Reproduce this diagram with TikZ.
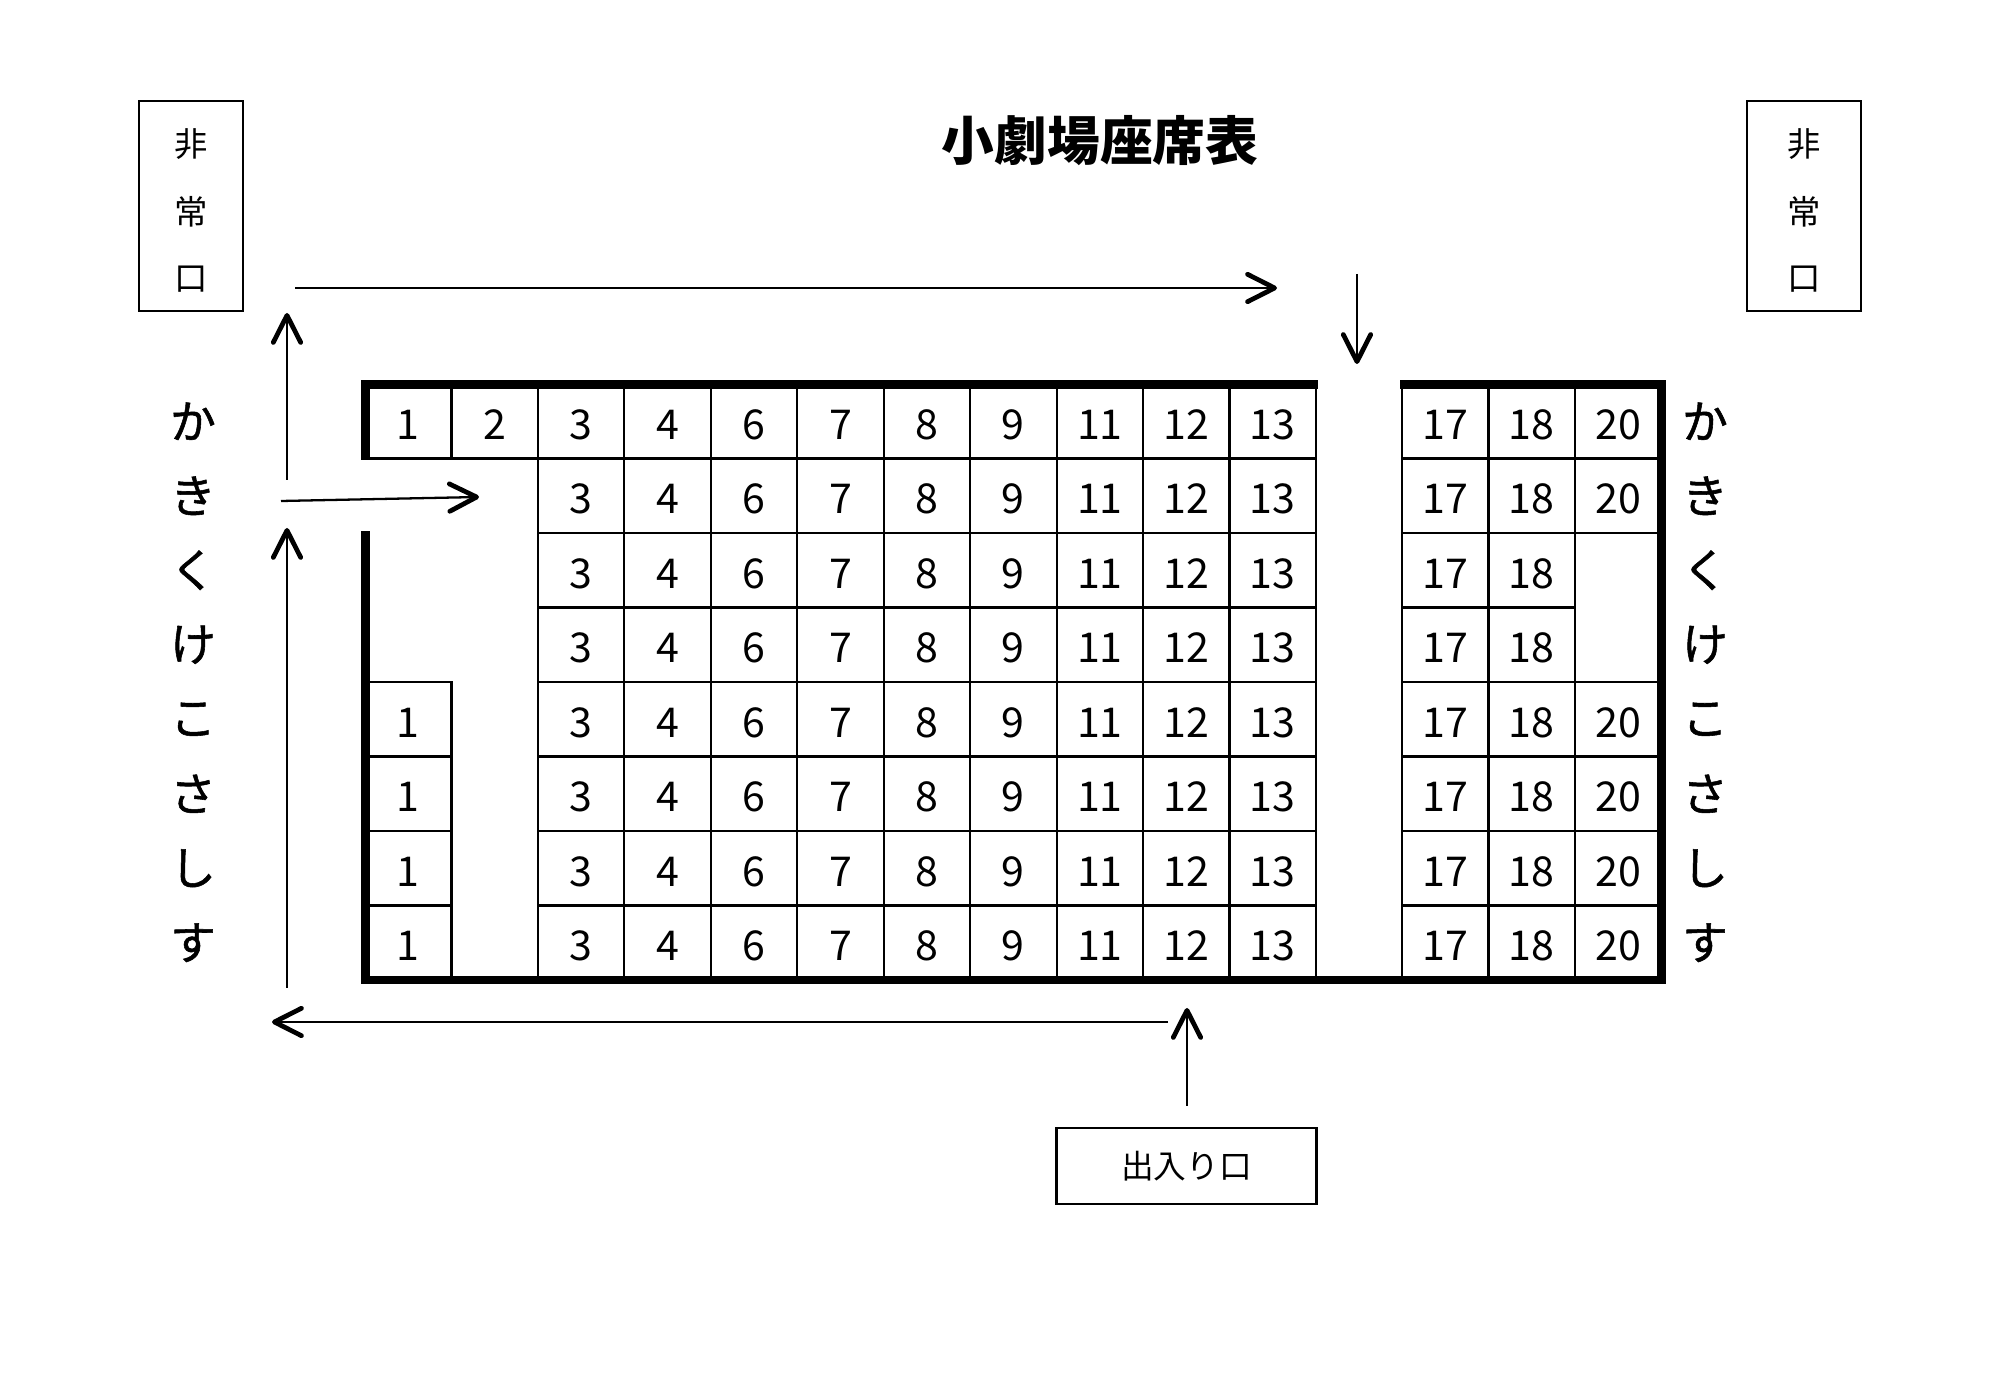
\documentclass[tikz,border=0pt]{standalone}
\usepackage{fontspec}
\setmainfont{Noto Sans CJK JP}
\newfontfamily\kanafont[FakeBold=1.2]{Noto Sans CJK JP}
\usetikzlibrary{arrows.meta}
\begin{document}
\begin{tikzpicture}[x=0.1mm,y=-0.1mm,
  seat/.style={draw, line width=0.6pt, minimum width=8.645mm, minimum height=7.45mm, inner sep=0pt, text height=3.6mm, text depth=0mm, font=\fontsize{11.7}{12}\selectfont},
  rseat/.style={seat, minimum width=8.65mm},
  wall/.style={fill=black},
  kana/.style={font=\kanafont\fontsize{13}{14}\selectfont, inner sep=0pt},
  exitbox/.style={draw, line width=0.8pt, inner sep=0pt},
  exitchar/.style={font=\fontsize{9.5}{10}\selectfont, inner sep=0pt},
  titlestyle/.style={font=\fontsize{15}{16}\selectfont\bfseries, inner sep=0pt},
  walk/.style={line width=0.65pt, -{Straight Barb[length=7.7pt, width=7.8pt, line width=1.35pt, round]}},
]
\useasboundingbox (0,0) rectangle (2000,1379);

% title
\node[titlestyle] (title) at (1100,141) {小劇場座席表};

% emergency exits
\node[exitbox, minimum width=10.4mm, minimum height=21mm] (exitL) at (191,206) {};
\node[exitchar] (exitL1) at (191,144) {非};
\node[exitchar] (exitL2) at (191,212) {常};
\node[exitchar] (exitL3) at (191,279) {口};
\node[exitbox, minimum width=11.4mm, minimum height=21mm] (exitR) at (1804,206) {};
\node[exitchar] (exitR1) at (1804,144) {非};
\node[exitchar] (exitR2) at (1804,212) {常};
\node[exitchar] (exitR3) at (1804,279) {口};

% entrance
\node[exitbox, minimum width=25.95mm, minimum height=7.6mm, font=\fontsize{9.3}{10}\selectfont] (entrance) at (1186.5,1166) {出入り口};

% left block seats
\foreach \r in {1,...,8} {
  \foreach \k/\n in {2/3,3/4,4/6,5/7,6/8,7/9,8/11,9/12,10/13} {
    \node[seat] (L\r-\k) at ({365+86.45*(\k+0.5)}, {384+74.5*(\r-0.5)}) {\n};
  }
}
\node[seat] (L1-0) at ({365+86.45*0.5}, {384+74.5*0.5}) {1};
\node[seat] (L1-1) at ({365+86.45*1.5}, {384+74.5*0.5}) {2};
\foreach \r in {5,...,8} {
  \node[seat] (L\r-0) at ({365+86.45*0.5}, {384+74.5*(\r-0.5)}) {1};
}

% right block seats
\foreach \r in {1,...,8} {
  \foreach \j/\n in {0/17,1/18} {
    \node[rseat] (R\r-\j) at ({1402+86.5*(\j+0.5)}, {384+74.5*(\r-0.5)}) {\n};
  }
}
\foreach \r in {1,2,5,6,7,8} {
  \node[rseat] (R\r-2) at ({1402+86.5*2.5}, {384+74.5*(\r-0.5)}) {20};
}
\node[rseat, minimum height=14.9mm] (R34-2) at ({1402+86.5*2.5}, {384+74.5*3}) {};

% thick walls
\fill[wall] (361,380) rectangle (1318,389);
\fill[wall] (1400,380) rectangle (1666,389);
\fill[wall] (361,380) rectangle (370,460);
\fill[wall] (361,531) rectangle (370,984);
\fill[wall] (361,976) rectangle (1666,984);
\fill[wall] (1657,380) rectangle (1666,984);

% side kana
\foreach \r/\c in {1/か,2/き,3/く,4/け,5/こ,6/さ,7/し,8/す} {
  \node[kana] (KL\r) at (193, {384+74.5*(\r-0.5)}) {\c};
  \node[kana] (KR\r) at (1705, {384+74.5*(\r-0.5)}) {\c};
}

% walking arrows
\coordinate (a1s) at (295,288);  \coordinate (a1e) at (1277,288);
\coordinate (a2s) at (1357,274); \coordinate (a2e) at (1357,364);
\coordinate (a3s) at (287,480);  \coordinate (a3e) at (287,313);
\coordinate (a4s) at (281,501);  \coordinate (a4e) at (479,497);
\coordinate (a5s) at (287,988);  \coordinate (a5e) at (287,528);
\coordinate (a6s) at (1168,1022); \coordinate (a6e) at (272,1022);
\coordinate (a7s) at (1187,1106); \coordinate (a7e) at (1187,1008);
\draw[walk] (a1s) -- (a1e);
\draw[walk] (a2s) -- (a2e);
\draw[walk] (a3s) -- (a3e);
\draw[walk] (a4s) -- (a4e);
\draw[walk] (a5s) -- (a5e);
\draw[walk] (a6s) -- (a6e);
\draw[walk] (a7s) -- (a7e);
\end{tikzpicture}
\end{document}
